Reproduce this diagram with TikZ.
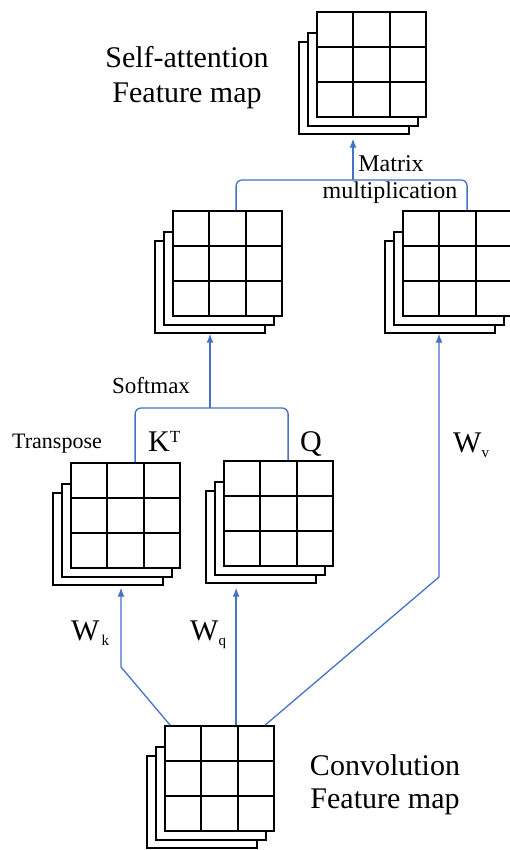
\documentclass[tikz,border=0pt]{standalone}
\usepackage{fontspec}
\setmainfont{Liberation Serif}
\usetikzlibrary{arrows.meta}
\definecolor{flowblue}{RGB}{68,114,196}
\tikzset{
  flow/.style={draw=flowblue, line width=1.3pt},
  flowarrow/.style={flow, -{Latex[length=9pt,width=7pt]}},
  frontgrid/.style={draw=black, fill=white, line width=1.8pt, inner sep=0pt, minimum width=109pt, minimum height=105pt},
  backgrid/.style={draw=black, fill=white, line width=1.4pt, inner sep=0pt, minimum width=110pt},
  cellline/.style={draw=black, line width=1.8pt},
  bigtext/.style={font=\fontsize{30}{34}\selectfont, inner sep=0pt, anchor=base},
  smalltext/.style={font=\fontsize{23}{26}\selectfont, inner sep=0pt, anchor=base},
}
\newcommand{\gridstack}[3]{%
  \node[backgrid, minimum height=92pt] (#1l) at (#2+37,#3+76) {};
  \node[backgrid, minimum height=93pt] (#1m) at (#2+46,#3+67.5) {};
  \node[frontgrid] (#1) at (#2+54.5,#3+52.5) {};
  \draw[cellline] (#2+36.3,#3) -- (#2+36.3,#3+105) (#2+72.7,#3) -- (#2+72.7,#3+105)
     (#2,#3+35) -- (#2+109,#3+35) (#2,#3+70) -- (#2+109,#3+70);
}
\begin{document}
\begin{tikzpicture}[x=1pt,y=-1pt]
\useasboundingbox (0,0) rectangle (510,850);
\clip (0,0) rectangle (510,850);
% grids
\gridstack{sa}{317}{12}
\gridstack{ml}{173}{211}
\gridstack{mr}{403}{211}
\gridstack{kt}{71}{463}
\gridstack{q}{224}{461}
\gridstack{conv}{165}{726}
% labels
\node[bigtext] (salab1) at (187,68) {Self-attention};
\node[bigtext] (salab2) at (187,103) {Feature map};
\node[bigtext] (cvlab1) at (385,775) {Convolution};
\node[bigtext] (cvlab2) at (385,808) {Feature map};
\node[smalltext, font=\fontsize{24}{26}\selectfont] (mmlab1) at (391,172) {Matrix};
\node[smalltext, font=\fontsize{24}{26}\selectfont] (mmlab2) at (390,199) {multiplication};
\node[smalltext] (smlab) at (151,393) {Softmax};
\node[smalltext, font=\fontsize{22}{26}\selectfont] (trlab) at (57,448) {Transpose};
\node[bigtext, anchor=base west] (ktlab) at (148,451) {K\raisebox{9pt}{\fontsize{17}{17}\selectfont T}};
\node[bigtext] (qlab) at (311,451) {Q};
\node[bigtext, anchor=base west] (wklab) at (71,640) {W\kern2pt\raisebox{-5pt}{\fontsize{15}{15}\selectfont k}};
\node[bigtext, anchor=base west] (wqlab) at (190,640) {W\raisebox{-5pt}{\fontsize{15}{15}\selectfont q}};
\node[bigtext, anchor=base west] (wvlab) at (453,452) {W\raisebox{-5pt}{\fontsize{15}{15}\selectfont v}};
% connectors from convolution feature map
\coordinate (ks) at ([xshift=6pt]conv.north west);
\coordinate (kb) at (121,667);
\draw[flowarrow, shorten >=2pt] (ks) -- (kb) -- (kb |- ktl.south);
\coordinate (qs) at ([xshift=72pt]conv.north west);
\draw[flowarrow, shorten >=4pt] (qs) -- (qs |- ql.south);
\coordinate (vs) at ([xshift=101pt]conv.north west);
\coordinate (vb) at (439,577);
\draw[flowarrow] (vs) -- (vb) -- (vb |- mrl.south);
% softmax bracket
\coordinate (kttop) at ([xshift=65pt]kt.north west);
\coordinate (qtop) at ([xshift=65pt]q.north west);
\coordinate (smj) at (210,408);
\draw[flow, rounded corners=6pt] (kttop) |- (smj) -| (qtop);
\draw[flowarrow] (smj) -- (smj |- mll.south);
% matrix multiplication bracket
\coordinate (mltop) at ([xshift=64pt]ml.north west);
\coordinate (mrtop) at ([xshift=65pt]mr.north west);
\coordinate (mmj) at (353,180);
\draw[flow, rounded corners=6pt] (mltop) |- (mmj) -| (mrtop);
\draw[flowarrow, shorten >=4pt] (mmj) -- (mmj |- sal.south);
\end{tikzpicture}
\end{document}
